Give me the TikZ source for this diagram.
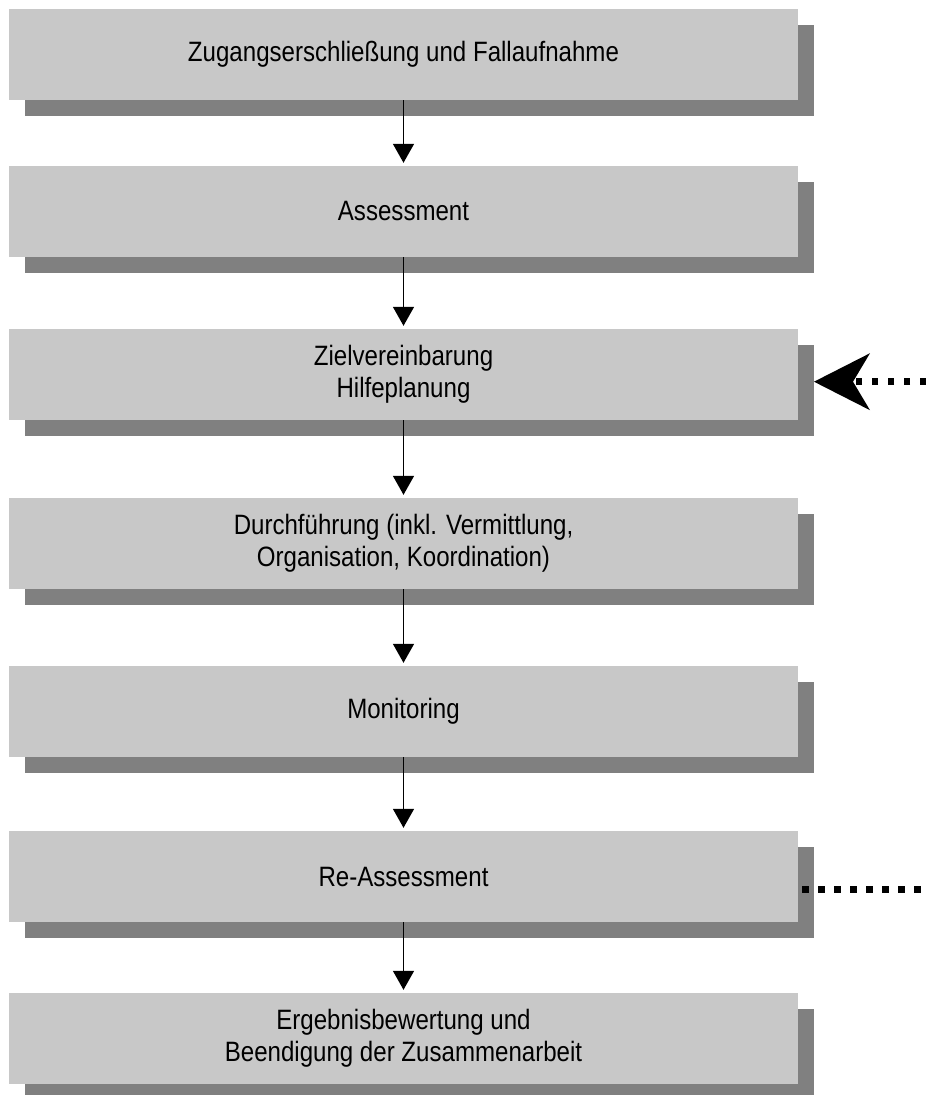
\documentclass[tikz,border=0pt]{standalone}
\usepackage{fontspec}
\setmainfont[FakeStretch=0.86]{Liberation Sans}
\usetikzlibrary{arrows.meta,shadows}
\definecolor{boxgray}{RGB}{200,200,200}
\definecolor{shadowgray}{RGB}{128,128,128}
\tikzset{
  phase/.style={fill=boxgray, minimum width=789pt, minimum height=91pt,
    inner sep=0pt, align=center, font=\fontsize{28}{32}\selectfont,
    drop shadow={shadow xshift=16pt, shadow yshift=-16pt, fill=shadowgray, opacity=1}},
  flow/.style={-{Triangle[length=19pt,width=21pt]}, line width=1.5pt, shorten >=3pt},
  feedback/.style={line width=6.5pt, dash pattern=on 6.5pt off 9.5pt}
}

\begin{document}
\begin{tikzpicture}[x=1pt,y=-1pt]
  \useasboundingbox (0,0) rectangle (926,1095);
  % the seven phases
  \foreach \name/\ypos/\txt in {
      access/54.5/{Zugangserschließung und Fallaufnahme},
      assess/211.5/{Assessment},
      plan/374.5/{Zielvereinbarung\\Hilfeplanung},
      execute/543.5/{Durchführung (inkl. Vermittlung,\\Organisation, Koordination)},
      monitor/711.5/{Monitoring},
      reassess/876.5/{Re-Assessment},
      finish/1038.5/{Ergebnisbewertung und\\Beendigung der Zusammenarbeit}} {
    \node[phase] (\name) at (403.5,\ypos) {\txt};
  }
  \foreach \a/\b in {access/assess, assess/plan, plan/execute,
      execute/monitor, monitor/reassess, reassess/finish} {
    \draw[flow] (\a) -- (\b);
  }
  % feedback from re-assessment back to planning
  \coordinate (fbin) at (926,381.7);
  \coordinate (fbtip) at (814,381.7);
  \coordinate (reout) at (802,889.3);
  \coordinate (reend) at (926,889.3);
  \draw[feedback, -{Stealth[length=56pt,width=57pt,inset=17pt,line width=0pt]}] (fbin) -- (fbtip);
  \draw[feedback] (reout) -- (reend);
\end{tikzpicture}
\end{document}
